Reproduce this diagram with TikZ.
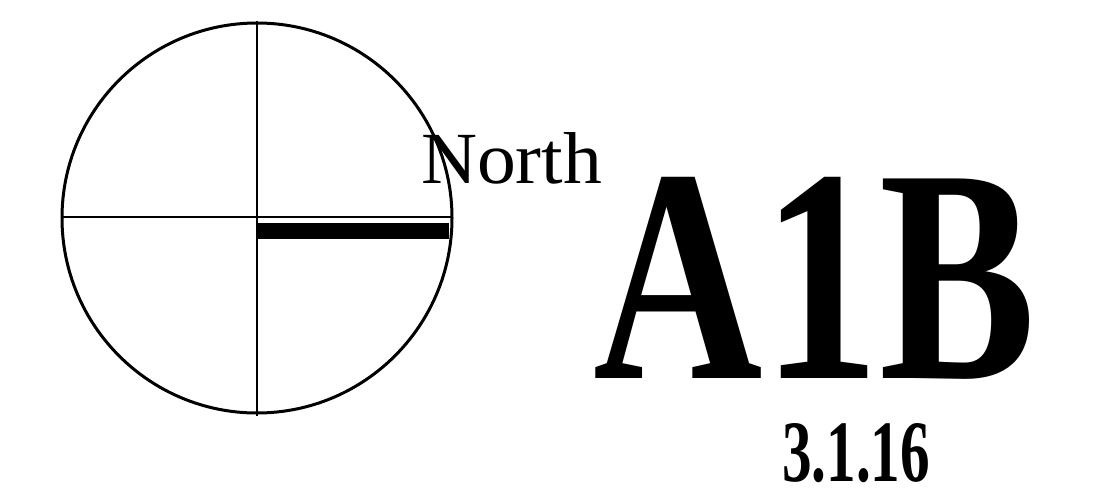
\documentclass[tikz,border=0pt]{standalone}
\usepackage{fontspec}
\usepackage{graphicx}
\setmainfont{Liberation Serif}
\usetikzlibrary{positioning}
\tikzset{
  ring/.style={draw=black, line width=3pt},
  crossline/.style={draw=black, line width=2pt},
  label/.style={inner sep=0pt, outer sep=0pt, anchor=base west}
}

\begin{document}
\begin{tikzpicture}[x=1pt, y=-1pt]
  \useasboundingbox (0,0) rectangle (1101,488);
  % compass circle
  \coordinate (ctr) at (257,218);
  \draw[ring] (ctr) circle (195);
  % cross lines
  \draw[crossline] (257,21) -- (257,416);
  \draw[crossline] (62,217) -- (451,217);
  % heading bar
  \fill[black] (257,223) rectangle (449,239);

  \node[label] (north) at (421,183) {\resizebox{181pt}{51pt}{North}};
  \node[label] (code) at (593,378) {\resizebox{443pt}{201pt}{\bfseries A1B}};
  \node[label] (date) at (782,481) {\resizebox{148pt}{58pt}{\bfseries 3.1.16}};
\end{tikzpicture}
\end{document}
